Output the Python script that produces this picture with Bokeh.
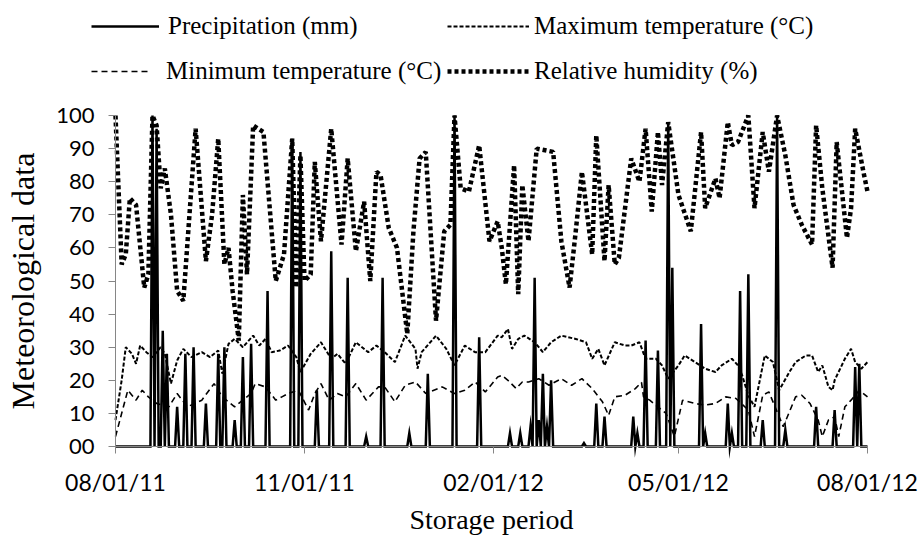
from bokeh.plotting import figure
from bokeh.models import Range1d, FixedTicker, PrintfTickFormatter, Legend, LegendItem, LinearAxis
from bokeh.embed import file_html
from bokeh.resources import INLINE

# ---- data (day offsets from 08/01/11) ----
rh_day = [0, 3, 5, 7, 10, 14, 16, 18, 20, 22, 24, 27, 30, 33, 36, 39, 44, 47, 50, 53, 55, 57, 60, 62, 64, 67,
          72, 78, 82, 86, 88, 90, 92, 95, 97, 100, 105, 110, 113, 117, 121, 124, 127, 129, 133, 137, 142, 145,
          148, 151, 156, 160, 163, 165, 168, 172, 177, 182, 186, 188, 190, 194, 196, 198, 201, 205, 213, 217,
          221, 224, 227, 232, 234, 238, 240, 243, 245, 251, 255, 258, 261, 264, 266, 269, 274, 280, 285, 287,
          292, 294, 298, 300, 303, 308, 311, 315, 318, 322, 326, 330, 334, 339, 341, 344, 349, 351, 356, 358,
          360, 364, 366]
rh_val = [100, 55, 58, 75, 73, 48, 52, 100, 97, 78, 84, 70, 47, 44, 70, 96, 56, 70, 93, 55, 60, 47, 32, 76, 52, 97,
          95, 50, 58, 93, 48, 88, 50, 52, 86, 62, 96, 61, 87, 59, 74, 50, 83, 82, 66, 60, 34, 65,
          87, 89, 38, 65, 67, 100, 78, 77, 91, 62, 68, 60, 49, 85, 46, 79, 62, 90, 89, 62,
          48, 65, 83, 58, 94, 56, 79, 55, 57, 87, 80, 96, 71, 95, 79, 98, 76, 65, 95, 72,
          81, 75, 98, 91, 92, 100, 72, 95, 83, 100, 88, 73, 67, 61, 97, 78, 54, 92, 63, 72,
          96, 83, 77]

tmax_day = [0, 3, 5, 8, 10, 12, 15, 18, 22, 24, 27, 30, 33, 37, 42, 46, 50, 52, 55, 58, 62, 67, 70, 73, 76, 80,
            84, 88, 90, 95, 100, 105, 108, 112, 117, 123, 127, 131, 136, 141, 146, 147, 149, 156, 161, 165, 170,
            175, 180, 186, 188, 191, 193, 196, 199, 204, 208, 212, 217, 224, 229, 232, 235, 238, 243, 248, 251,
            255, 258, 263, 266, 269, 274, 277, 282, 287, 292, 295, 300, 303, 305, 308, 311, 316, 320, 323, 328,
            331, 336, 339, 342, 344, 347, 349, 350, 355, 358, 360, 363, 366]
tmax_val = [8, 20, 30, 28, 25, 30.5, 28.5, 27, 30, 28, 19, 26, 29.5, 27, 28.5, 27, 29, 22, 31, 32.5, 30, 33.5, 30.5,
            32.5, 28.5, 29, 30.5, 27, 22.5, 28, 31.5, 26.5, 28, 25, 31.5, 28.5, 30.5, 28.5, 25.5, 33.5, 29.5, 23.5,
            28.5, 33.5, 29.5, 24.5, 30.5, 28.5, 28.5, 33.5, 33, 35.5, 29.5, 32.5, 33.5, 31.5, 28.5, 31.5, 33.5,
            32.5, 31.5, 26.5, 29.5, 24.5, 31.5, 30.5, 30.5, 31.5, 26.5, 26.5, 24.5, 20.5, 24.5, 27.5, 25.5, 23.5,
            22.5, 24.5, 26.5, 24.5, 21.5, 15.4, 12, 27.5, 25.5, 17, 22.5, 25.5, 27.5, 27.5, 22.5, 24.5, 18, 17,
            20, 26.5, 29.5, 25.5, 23.5, 25.5]

tmin_day = [0, 3, 6, 10, 13, 16, 20, 26, 30, 35, 42, 48, 52, 58, 66, 68, 73, 78, 81, 84, 89, 94, 97, 100, 104, 108,
            112, 117, 122, 125, 128, 131, 136, 141, 146, 151, 159, 165, 170, 175, 180, 186, 188, 191, 195, 198,
            201, 206, 211, 217, 222, 227, 232, 237, 240, 243, 248, 253, 256, 257, 260, 268, 272, 276, 282, 287,
            292, 297, 302, 308, 311, 315, 318, 325, 327, 331, 334, 338, 342, 344, 347, 350, 352, 355, 358, 362,
            366]
tmin_val = [3, 10, 17, 14, 17, 15, 13, 12, 16, 12, 14, 19, 15, 12, 16, 19, 18, 14, 15, 16, 17, 11, 16, 19, 14, 16,
            15, 19, 14, 16, 18, 18, 13.5, 18.5, 19.5, 16, 18, 16, 17, 19.5, 16.5, 21, 21.5, 20, 17.5, 19.5,
            19.5, 20.5, 18.5, 20.5, 18.5, 20.5, 17.5, 13.5, 9.4, 15, 15.5, 17.5, 19.4, 15, 14, 10, 3, 14, 13, 12.5,
            13, 15, 14.5, 11, 3, 15.5, 16.5, 6, 9, 15, 15.5, 13, 8, 3, 8, 9, 3, 12, 14, 17,
            15]

rain_day = [18, 20, 23, 25, 30, 34, 38, 44, 50, 53, 58, 62, 66, 74, 86, 90, 98, 105, 113, 122, 130, 143, 152, 165,
            177, 192, 197, 202, 204, 206, 208, 210, 212, 228, 234, 238, 252, 254, 258, 264, 269, 271, 285, 287,
            298, 300, 304, 308, 315, 322, 326, 341, 350, 360, 362]
rain_val = [100, 96, 35, 28, 12, 28, 30, 13, 28, 30, 8, 27, 31, 47, 93, 89, 17, 59, 51, 3, 51, 4, 22, 100,
            33, 4, 4, 6, 51, 8, 22, 6, 20, 1, 13, 9, 9, 4, 32, 29, 98, 54, 37, 4,
            13, 4, 47, 52, 8, 100, 5, 12, 11, 24, 25]

tick_days = [0, 92, 184, 274, 366]
tick_labels = ["08/01/11", "11/01/11", "02/01/12", "05/01/12", "08/01/12"]
y_ticks = [0, 10, 20, 30, 40, 50, 60, 70, 80, 90, 100]

n_days = 367
rain_all_days = list(range(n_days))
rain_all = [0.0] * n_days
for d, v in zip(rain_day, rain_val):
    rain_all[d] = v

SERIF = "Liberation Serif"
SANS = "Lato"
AXIS_GRAY = "#868686"

# canvas geometry (px): plot area spans x 115..867, y 115..446 (top-left origin)
W, H = 918, 535
PX_L, PX_R, PX_T, PX_B = 115, 867, 115, 446
x_scale = (PX_R - PX_L) / (tick_days[-1] - tick_days[0])
y_scale = (PX_B - PX_T) / (y_ticks[-1] - y_ticks[0])
x0 = tick_days[0] - PX_L / x_scale
y0 = y_ticks[0] - (H - PX_B) / y_scale

p = figure(width=W, height=H, output_backend="svg", toolbar_location=None,
           x_range=Range1d(x0, x0 + W / x_scale), y_range=Range1d(y0, y0 + H / y_scale),
           x_axis_type=None, y_axis_type=None,
           min_border_left=0, min_border_right=0, min_border_top=0, min_border_bottom=0)
p.outline_line_color = None
p.xgrid.visible = False
p.ygrid.visible = False

r_rain = p.line(rain_all_days, rain_all, line_color="black", line_width=2.5, line_join="miter")
r_tmax = p.line(tmax_day, tmax_val, line_color="black", line_width=2, line_dash="4 2")
r_tmin = p.line(tmin_day, tmin_val, line_color="black", line_width=1.6, line_dash="6 4")
r_rh = p.line(rh_day, rh_val, line_color="black", line_width=4.5, line_dash="4 3")

xa = LinearAxis(fixed_location=y_ticks[0], bounds=(tick_days[0], tick_days[-1]))
xa.ticker = FixedTicker(ticks=tick_days)
xa.major_label_overrides = {d: lab for d, lab in zip(tick_days, tick_labels)}
xa.minor_tick_line_color = None
xa.major_tick_out = 7
xa.major_tick_in = 0
xa.axis_line_color = AXIS_GRAY
xa.major_tick_line_color = AXIS_GRAY
xa.major_label_text_font = SANS
xa.major_label_text_font_size = "23px"
xa.major_label_text_color = "black"
xa.major_label_standoff = 14
xa.axis_label = "Storage period"
xa.axis_label_text_font = SERIF
xa.axis_label_text_font_size = "28px"
xa.axis_label_text_font_style = "normal"
xa.axis_label_text_color = "black"
xa.axis_label_standoff = 5
p.add_layout(xa, "below")

ya = LinearAxis(fixed_location=tick_days[0], bounds=(y_ticks[0], y_ticks[-1]))
ya.ticker = FixedTicker(ticks=y_ticks)
ya.formatter = PrintfTickFormatter(format="%02d")
ya.minor_tick_line_color = None
ya.major_tick_out = 7
ya.major_tick_in = 0
ya.axis_line_color = AXIS_GRAY
ya.major_tick_line_color = AXIS_GRAY
ya.major_label_text_font = SANS
ya.major_label_text_font_size = "22px"
ya.major_label_text_color = "black"
ya.major_label_standoff = 14
ya.axis_label = "Meteorological data"
ya.axis_label_text_font = SERIF
ya.axis_label_text_font_size = "32px"
ya.axis_label_text_font_style = "normal"
ya.axis_label_text_color = "black"
ya.axis_label_standoff = 12
p.add_layout(ya, "left")

# legend: 2 x 2 arrangement of single-item legends
leg_names = ["Precipitation (mm)", "Maximum temperature (°C)", "Minimum temperature (°C)", "Relative humidity (%)"]
leg_rend = [r_rain, r_tmax, r_tmin, r_rh]
leg_x = [91, 447, 91, 447]
leg_row = [0, 0, 1, 1]
leg_gw = [68, 82, 59, 82]
leg_so = [9, 5, 16, 5]
row_top = [14, 59]
for name, rr, lx, row, gw, so in zip(leg_names, leg_rend, leg_x, leg_row, leg_gw, leg_so):
    leg = Legend(items=[LegendItem(label=name, renderers=[rr])],
                 location=(lx, H - row_top[row] - 26), orientation="horizontal",
                 glyph_width=gw, glyph_height=26, label_height=26, label_standoff=so,
                 padding=0, margin=0, spacing=0,
                 border_line_color=None, background_fill_alpha=0,
                 label_text_font=SERIF, label_text_font_size="25px", label_text_color="black")
    p.add_layout(leg, "center")

open("out.html", "w").write(file_html(p, INLINE))
